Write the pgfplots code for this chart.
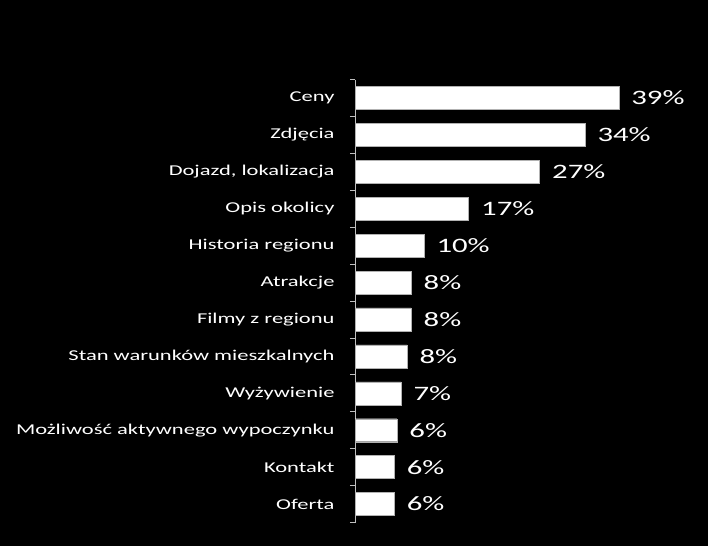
\documentclass[border=0pt]{standalone}
\usepackage{pgfplots}
\pgfplotsset{compat=1.18}
\usepackage{fontspec}
\setmainfont{Carlito}[FakeStretch=1.5]
\begin{document}
\begin{tikzpicture}
\fill[black] (0,0) rectangle (708bp,-546bp);
\useasboundingbox (0,0) rectangle (708bp,-546bp);
\begin{axis}[
  at={(355bp,-522.5bp)}, anchor=south west,
  scale only axis, width=345bp, height=443bp,
  xmin=0, xmax=51, ymin=-0.5, ymax=11.5, y dir=reverse,
  hide x axis, axis y line*=left,
  axis line style={white!75!black, line width=0.8pt},
  ytick={0,...,11},
  yticklabels={Ceny, Zdjęcia, {Dojazd, lokalizacja}, Opis okolicy, Historia regionu, Atrakcje, Filmy z regionu, Stan warunków mieszkalnych, Wyżywienie, Możliwość aktywnego wypoczynku, Kontakt, Oferta},
  major tick length=0pt,
  minor ytick={-0.5,0.5,...,11.5},
  minor tick length=5bp, tick align=outside,
  tick style={white!75!black, line width=0.8pt},
  yticklabel style={font=\fontsize{15bp}{17bp}\selectfont, text=white, xshift=-17bp},
  xbar, bar width=23bp,
  nodes near coords={\pgfplotspointmeta\%},
  point meta=explicit symbolic,
  nodes near coords style={font=\fontsize{20.5bp}{24bp}\selectfont, text=white, anchor=west, xshift=9bp},
]
\addplot[fill=white, draw=white!70!black] table[x=v, y=c, meta=l] {
v c l
39 0 39
34 1 34
27.3 2 27
16.8 3 17
10.2 4 10
8.3 5 8
8.3 6 8
7.7 7 8
6.8 8 7
6.2 9 6
5.8 10 6
5.8 11 6
};
\end{axis}
\end{tikzpicture}
\end{document}
